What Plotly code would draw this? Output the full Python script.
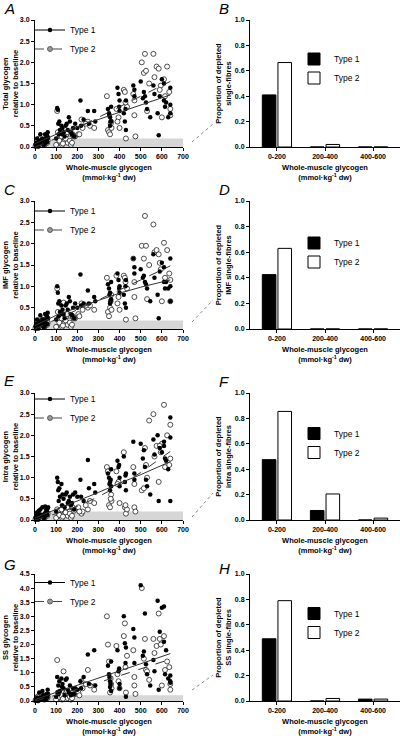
import plotly.graph_objects as go

# ---------------- data ----------------
# whole-muscle glycogen (x) of each single-fibre sample
x_type1 = [8, 12, 18, 22, 28, 35, 42, 48, 55, 60, 15, 30, 50, 58,
           105, 108, 110, 112, 125, 130, 135, 140, 150, 155, 165, 170, 180, 185,
           215, 218, 250, 255, 280, 285,
           345, 350, 355, 355, 360, 360,
           390, 395, 400, 400, 420, 425, 430, 430,
           465, 470, 470,
           500, 515, 520, 525, 530, 545,
           560, 565, 580, 585, 600, 610, 610, 615, 640, 640, 640,
           3, 6, 10, 20, 25, 38, 45, 52, 57, 62,
           100, 115, 118, 128, 145, 160, 175, 190,
           200, 230,
           352, 358, 398, 428,
           510, 590, 620, 630]
x_type2 = [5, 10, 15, 20, 25, 32, 40, 45, 52, 60,
           105, 112, 120, 128, 135, 140, 148, 155, 162, 170, 178, 190,
           205, 220, 225, 250, 260, 280,
           340, 345, 350, 355, 360, 362,
           385, 395, 400, 420, 425, 430, 435,
           465, 470, 470, 475,
           505, 515, 520, 525, 540,
           560, 565, 575, 585, 595, 600, 610, 615, 635, 640, 640,
           2, 8, 12, 18, 28, 35, 48, 55, 58,
           100, 108, 115, 125, 132, 145, 152, 165, 175, 185,
           210, 240,
           358, 390, 428,
           530, 590, 625]

# A: total glycogen relative to baseline
total_t1 = [0.10, 0.05, 0.15, 0.08, 0.12, 0.20, 0.05, 0.30, 0.25, 0.35, 0.02, 0.10, 0.18, 0.12,
            0.92, 0.88, 0.55, 0.30, 0.50, 0.45, 0.35, 0.25, 0.55, 0.40, 0.60, 0.35, 0.45, 0.25,
            1.10, 0.50, 0.85, 0.55, 0.85, 0.60,
            0.90, 0.80, 0.70, 0.50, 0.95, 0.60,
            1.40, 1.25, 1.10, 0.85, 0.80, 0.60, 1.10, 0.40,
            1.45, 1.35, 1.20,
            1.55, 1.30, 1.20, 1.05, 0.90, 0.70,
            1.45, 1.25, 0.80, 0.28, 1.60, 1.50, 1.10, 0.95, 1.40, 1.00, 0.80,
            0.05, 0.02, 0.20, 0.12, 0.30, 0.08, 0.15, 0.10, 0.28, 0.22,
            0.20, 0.60, 0.40, 0.30, 0.50, 0.70, 0.30, 0.55,
            0.45, 0.65,
            0.75, 0.60, 0.95, 0.90,
            1.15, 1.20, 1.05, 0.70]
total_t2 = [0.05, 0.12, 0.02, 0.20, 0.08, 0.15, 0.10, 0.05, 0.20, 0.15,
            0.85, 0.20, 0.10, 0.05, 0.25, 0.15, 0.30, 0.10, 0.20, 0.05, 0.30, 0.25,
            0.30, 0.65, 0.45, 0.60, 0.50, 0.45,
            1.20, 0.40, 0.35, 0.30, 0.60, 0.45,
            0.90, 0.70, 0.45, 1.35, 1.30, 0.20, 0.95,
            1.25, 1.10, 0.75, 0.25,
            2.00, 1.75, 2.20, 1.80, 1.50,
            2.20, 1.65, 1.90, 1.85, 1.45, 0.70, 1.60, 1.20, 1.30, 0.90, 0.75,
            0.02, 0.08, 0.15, 0.05, 0.12, 0.25, 0.08, 0.18, 0.10,
            0.05, 0.35, 0.15, 0.25, 0.08, 0.20, 0.35, 0.15, 0.10, 0.25,
            0.30, 0.55,
            0.55, 0.60, 1.05,
            0.85, 1.35, 1.90]

# C: IMF glycogen
imf_t1 = [0.12, 0.05, 0.18, 0.08, 0.14, 0.22, 0.04, 0.35, 0.28, 0.38, 0.02, 0.10, 0.20, 0.12,
          1.00, 0.85, 0.60, 0.30, 0.55, 0.45, 0.35, 0.25, 0.60, 0.45, 0.65, 0.35, 0.50, 0.25,
          1.28, 0.55, 0.90, 0.60, 0.75, 0.65,
          1.05, 0.95, 0.85, 0.60, 1.10, 0.70,
          1.30, 1.15, 1.00, 0.85, 0.80, 0.60, 1.15, 0.50,
          1.65, 1.45, 1.30,
          1.40, 1.25, 1.10, 1.05, 0.95, 0.65,
          1.75, 1.20, 0.80, 0.25, 1.55, 1.45, 1.10, 0.95, 1.65, 1.00, 0.65,
          0.06, 0.02, 0.22, 0.12, 0.32, 0.08, 0.16, 0.10, 0.30, 0.25,
          0.22, 0.65, 0.40, 0.35, 0.55, 0.75, 0.32, 0.60,
          0.50, 0.60,
          0.80, 0.65, 0.95, 1.00,
          1.20, 1.35, 1.10, 0.95]
imf_t2 = [0.05, 0.15, 0.02, 0.20, 0.08, 0.15, 0.10, 0.05, 0.22, 0.15,
          0.95, 0.25, 0.10, 0.05, 0.62, 0.15, 0.30, 0.10, 0.20, 0.05, 0.30, 0.25,
          0.35, 0.60, 0.45, 0.50, 0.55, 0.45,
          1.20, 0.40, 0.30, 0.50, 0.80, 0.45,
          1.25, 0.75, 0.45, 1.25, 1.20, 0.22, 0.95,
          1.65, 1.10, 0.75, 0.25,
          1.95, 1.65, 2.65, 1.95, 1.50,
          2.45, 1.80, 1.85, 1.75, 1.40, 0.65, 2.02, 1.20, 1.30, 1.15, 0.65,
          0.02, 0.10, 0.15, 0.05, 0.12, 0.22, 0.08, 0.18, 0.10,
          0.05, 0.40, 0.15, 0.25, 0.08, 0.20, 0.35, 0.15, 0.10, 0.25,
          0.30, 0.55,
          0.65, 0.60, 1.10,
          0.70, 1.55, 1.85]

# E: intramyofibrillar (intra) glycogen
intra_t1 = [0.10, 0.05, 0.22, 0.08, 0.12, 0.30, 0.04, 0.32, 0.25, 0.28, 0.02, 0.10, 0.18, 0.12,
            1.00, 0.90, 0.70, 0.45, 0.85, 0.60, 0.50, 0.30, 0.65, 0.40, 0.55, 0.35, 0.60, 0.25,
            0.95, 0.55, 1.42, 0.75, 0.85, 0.65,
            1.10, 1.00, 0.90, 0.70, 1.20, 0.80,
            1.40, 1.25, 1.00, 0.80, 1.50, 0.90, 1.10, 0.70,
            1.85, 1.10, 0.95,
            1.80, 1.65, 1.25, 0.95, 0.80, 0.60,
            1.90, 1.55, 2.00, 0.45, 1.60, 1.85, 1.75, 1.45, 2.42, 1.95, 0.45,
            0.05, 0.02, 0.18, 0.12, 0.25, 0.08, 0.15, 0.10, 0.20, 0.30,
            0.20, 0.75, 0.55, 0.35, 0.60, 0.45, 0.40, 0.65,
            0.55, 0.45,
            0.85, 0.95, 1.30, 1.05,
            1.45, 1.70, 1.40, 1.20]
intra_t2 = [0.05, 0.12, 0.02, 0.20, 0.08, 0.15, 0.10, 0.05, 0.20, 0.15,
            0.25, 0.15, 0.10, 0.05, 0.30, 0.15, 0.28, 0.10, 0.20, 0.05, 0.30, 0.25,
            0.30, 0.15, 0.20, 0.25, 0.45, 0.40,
            1.25, 1.15, 0.35, 0.30, 0.60, 0.45,
            1.15, 0.90, 0.40, 1.60, 0.30, 0.15, 0.25,
            1.25, 0.85, 0.30, 0.20,
            0.70, 0.75, 1.70, 1.30, 2.35,
            2.50, 1.50, 1.75, 0.90, 1.60, 1.80, 2.72, 1.25, 1.30, 2.25, 1.45,
            0.02, 0.08, 0.15, 0.05, 0.12, 0.22, 0.08, 0.18, 0.10,
            0.05, 0.20, 0.12, 0.25, 0.08, 0.18, 0.30, 0.15, 0.10, 0.22,
            0.20, 0.35,
            0.50, 0.85, 0.35,
            1.00, 1.75, 2.00]

# G: subsarcolemmal (SS) glycogen
ss_t1 = [0.05, 0.02, 0.10, 0.08, 0.12, 0.35, 0.04, 0.15, 0.25, 0.40, 0.02, 0.10, 0.18, 0.12,
         0.85, 0.30, 0.55, 0.25, 0.80, 0.60, 0.45, 0.20, 0.80, 0.40, 0.55, 0.20, 0.45, 0.25,
         0.70, 0.45, 1.65, 0.60, 1.80, 0.55,
         1.25, 0.95, 0.70, 0.50, 1.40, 0.35,
         1.80, 1.05, 0.60, 0.45, 3.00, 2.05, 1.90, 0.15,
         2.55, 2.25, 1.35,
         4.10, 1.75, 3.10, 1.30, 0.95, 0.55,
         1.45, 1.05, 3.55, 0.40, 3.30, 3.35, 2.10, 0.95, 0.90, 0.70, 0.65,
         0.02, 0.05, 0.12, 0.30, 0.08, 0.20, 0.10, 0.06, 0.15, 0.25,
         0.15, 0.70, 0.35, 0.50, 0.75, 0.30, 0.25, 0.45,
         0.40, 0.85,
         0.85, 0.60, 1.15, 1.35,
         1.60, 2.45, 1.80, 0.80]
ss_t2 = [0.05, 0.12, 0.02, 0.20, 0.08, 0.15, 0.10, 0.05, 0.20, 0.15,
         1.45, 0.20, 0.10, 0.05, 1.05, 0.15, 0.30, 0.10, 0.20, 0.05, 0.30, 0.25,
         0.30, 0.70, 0.45, 1.10, 0.55, 0.40,
         3.00, 2.00, 1.40, 0.30, 0.60, 0.45,
         1.95, 0.70, 0.45, 2.30, 2.75, 0.30, 1.60,
         1.80, 0.85, 0.55, 0.25,
         4.00, 1.50, 2.20, 1.10, 0.75,
         2.20, 1.70, 1.95, 3.10, 2.00, 0.55, 2.30, 1.10, 1.20, 0.60, 0.40,
         0.02, 0.08, 0.15, 0.05, 0.12, 0.20, 0.08, 0.18, 0.10,
         0.05, 0.30, 0.15, 0.20, 0.08, 0.25, 0.35, 0.15, 0.10, 0.25,
         0.20, 0.60,
         0.80, 0.95, 1.20,
         1.05, 2.20, 1.40]

# regression lines
fit_x = [0, 100, 200, 300, 400, 500, 640]
fit_total_t1 = [0.08, 0.30, 0.48, 0.65, 0.82, 1.00, 1.23]
fit_total_t2 = [0.00, 0.20, 0.45, 0.70, 0.95, 1.20, 1.55]
fit_imf_t1 = [0.08, 0.32, 0.50, 0.67, 0.84, 0.98, 1.15]
fit_imf_t2 = [0.00, 0.22, 0.45, 0.68, 0.92, 1.15, 1.48]
fit_intra_t1 = [0.05, 0.25, 0.45, 0.65, 0.87, 1.07, 1.38]
fit_intra_t2 = [0.00, 0.15, 0.32, 0.55, 0.82, 1.12, 1.62]
fit_ss_t1 = [0.05, 0.30, 0.55, 0.80, 1.07, 1.32, 1.68]
fit_ss_t2 = [0.00, 0.20, 0.42, 0.65, 0.90, 1.15, 1.48]

# proportion of depleted single fibres
bins = ["0-200", "200-400", "400-600"]
dep_total_t1 = [0.41, 0.0, 0.0]
dep_total_t2 = [0.665, 0.02, 0.0]
dep_imf_t1 = [0.425, 0.0, 0.0]
dep_imf_t2 = [0.63, 0.0, 0.0]
dep_intra_t1 = [0.475, 0.075, 0.0]
dep_intra_t2 = [0.855, 0.205, 0.015]
dep_ss_t1 = [0.49, 0.0, 0.015]
dep_ss_t2 = [0.79, 0.02, 0.015]

depletion_threshold = 0.2

# ---------------- layout helpers ----------------
W, H = 400, 736
FONT = "Liberation Sans, Arial, sans-serif"


def fy(p):
    return 1 - p / H


def fx(p):
    return p / W


rows = [(20, 147), (201, 329), (393, 520), (574, 701)]
scatter_dom = [fx(35), fx(183)]
bar_dom = [fx(250), 1.0]

scatter_panels = [
    ("Total glycogen<br>relative to baseline", total_t1, total_t2, fit_total_t1, fit_total_t2, 3.0),
    ("IMF glycogen<br>relative to baseline", imf_t1, imf_t2, fit_imf_t1, fit_imf_t2, 3.0),
    ("Intra glycogen<br>relative to baseline", intra_t1, intra_t2, fit_intra_t1, fit_intra_t2, 3.0),
    ("SS glycogen<br>relative to baseline", ss_t1, ss_t2, fit_ss_t1, fit_ss_t2, 4.5),
]
bar_panels = [
    ("Proportion of depleted<br>single-fibres", dep_total_t1, dep_total_t2),
    ("Proportion of depleted<br>IMF single-fibres", dep_imf_t1, dep_imf_t2),
    ("Proportion of depleted<br>intra single-fibres", dep_intra_t1, dep_intra_t2),
    ("Proportion of depleted<br>SS single-fibres", dep_ss_t1, dep_ss_t2),
]
scatter_leg_mid = [39.5, 220.5, 408.5, 592]
bar_leg_mid = [68.5, 252.5, 443, 623]
letters = [("A", 2, 8), ("B", 217, 8), ("C", 2, 189), ("D", 217, 189),
           ("E", 2, 380), ("F", 217, 381), ("G", 2, 564), ("H", 217, 568)]
connectors = [((192, 142), (213, 124)), ((192, 322), (213, 300)),
              ((192, 517), (213, 493)), ((192, 690), (213, 675))]

tickfont = dict(family=FONT, size=7, color="black", weight="bold")
titlefont = dict(family=FONT, size=7.5, color="black", weight="bold")
xtitle = "Whole-muscle glycogen<br>(mmol·kg<sup>-1</sup> dw)"

fig = go.Figure()
layout = dict(
    width=W, height=H, margin=dict(l=0, r=0, t=0, b=0),
    paper_bgcolor="white", plot_bgcolor="white",
    font=dict(family=FONT, color="black"),
    barmode="group", bargap=0.35, bargroupgap=0.13,
    annotations=[], shapes=[],
)

axis_common = dict(showline=True, linecolor="black", linewidth=1, ticks="outside",
                   ticklen=3, tickwidth=1, tickcolor="black", showgrid=False,
                   zeroline=False, tickfont=tickfont, automargin=False)

for i, (ytitle, y1, y2, f1, f2, ymax) in enumerate(scatter_panels):
    k = 2 * i + 1
    xa = "x" if k == 1 else f"x{k}"
    ya = "y" if k == 1 else f"y{k}"
    leg = "legend" if k == 1 else f"legend{k}"
    top, bot = rows[i]
    layout[f"xaxis{'' if k == 1 else k}"] = dict(
        axis_common, domain=scatter_dom, anchor=ya, range=[0, 700], dtick=100,
        title=dict(text=xtitle, font=titlefont, standoff=5))
    layout[f"yaxis{'' if k == 1 else k}"] = dict(
        axis_common, domain=[fy(bot), fy(top)], anchor=xa, range=[0, ymax], dtick=0.5,
        tickformat=".1f", title=dict(text=ytitle, font=titlefont, standoff=0))
    # depletion threshold band
    layout["shapes"].append(dict(type="rect", xref=xa, yref=ya, x0=0, x1=700, y0=0,
                                 y1=depletion_threshold, fillcolor="#d6d6d6",
                                 line=dict(width=0), layer="below"))
    fig.add_trace(go.Scatter(x=x_type2, y=y2, mode="markers", xaxis=xa, yaxis=ya,
                             showlegend=False, cliponaxis=False,
                             marker=dict(size=5, color="white", symbol="circle",
                                         line=dict(color="#222", width=0.8))))
    fig.add_trace(go.Scatter(x=x_type1, y=y1, mode="markers", xaxis=xa, yaxis=ya,
                             showlegend=False, cliponaxis=False,
                             marker=dict(size=4.5, color="black", line=dict(width=0))))
    fig.add_trace(go.Scatter(x=fit_x, y=f1, mode="lines", xaxis=xa, yaxis=ya,
                             showlegend=False, line=dict(color="#333", width=1)))
    fig.add_trace(go.Scatter(x=fit_x, y=f2, mode="lines", xaxis=xa, yaxis=ya,
                             showlegend=False, line=dict(color="#333", width=1, dash="dash")))
    # legend entries
    fig.add_trace(go.Scatter(x=[None], y=[None], mode="lines+markers", name="Type 1",
                             xaxis=xa, yaxis=ya, legend=leg,
                             line=dict(color="black", width=1),
                             marker=dict(size=4.5, color="black")))
    fig.add_trace(go.Scatter(x=[None], y=[None], mode="lines+markers", name="Type 2",
                             xaxis=xa, yaxis=ya, legend=leg,
                             line=dict(color="#444", width=1, dash="dash"),
                             marker=dict(size=5, color="#999", line=dict(color="#444", width=0.8))))
    layout[leg] = dict(x=fx(30), y=fy(scatter_leg_mid[i]), xanchor="left", yanchor="middle",
                       bgcolor="rgba(0,0,0,0)", font=dict(family=FONT, size=8.5, color="black"),
                       tracegroupgap=0, itemwidth=30)

for i, (ytitle, b1, b2) in enumerate(bar_panels):
    k = 2 * i + 2
    xa, ya, leg = f"x{k}", f"y{k}", f"legend{k}"
    top, bot = rows[i]
    layout[f"xaxis{k}"] = dict(
        axis_common, domain=bar_dom, anchor=ya, type="category", range=[-0.56, 2.56],
        title=dict(text=xtitle, font=titlefont, standoff=5))
    layout[f"yaxis{k}"] = dict(
        axis_common, domain=[fy(bot), fy(top)], anchor=xa, range=[0, 1.0], dtick=0.2,
        tickformat=".1f", title=dict(text=ytitle, font=titlefont, standoff=2))
    fig.add_trace(go.Bar(x=bins, y=b1, name="Type 1", xaxis=xa, yaxis=ya, legend=leg,
                         offsetgroup="t1",
                         marker=dict(color="black", line=dict(color="black", width=1))))
    fig.add_trace(go.Bar(x=bins, y=b2, name="Type 2", xaxis=xa, yaxis=ya, legend=leg,
                         offsetgroup="t2",
                         marker=dict(color="white", line=dict(color="black", width=1))))
    layout[leg] = dict(x=fx(294), y=fy(bar_leg_mid[i]), xanchor="left", yanchor="middle",
                       bgcolor="rgba(0,0,0,0)", font=dict(family=FONT, size=8.5, color="black"),
                       tracegroupgap=0, itemwidth=30)

for (t, lx, ly) in letters:
    layout["annotations"].append(dict(text=f"<i>{t}</i>", xref="paper", yref="paper",
                                      x=fx(lx), y=fy(ly), xanchor="left", yanchor="middle",
                                      showarrow=False,
                                      font=dict(family=FONT, size=15, color="black")))

for (p0, p1) in connectors:
    layout["shapes"].append(dict(type="line", xref="paper", yref="paper",
                                 x0=fx(p0[0]), y0=fy(p0[1]), x1=fx(p1[0]), y1=fy(p1[1]),
                                 line=dict(color="#888", width=1, dash="dot")))

fig.update_layout(**layout)
fig.write_html("out.html", config={"displayModeBar": False},
               post_script="document.body.style.margin='0';document.body.style.overflow='hidden';")
